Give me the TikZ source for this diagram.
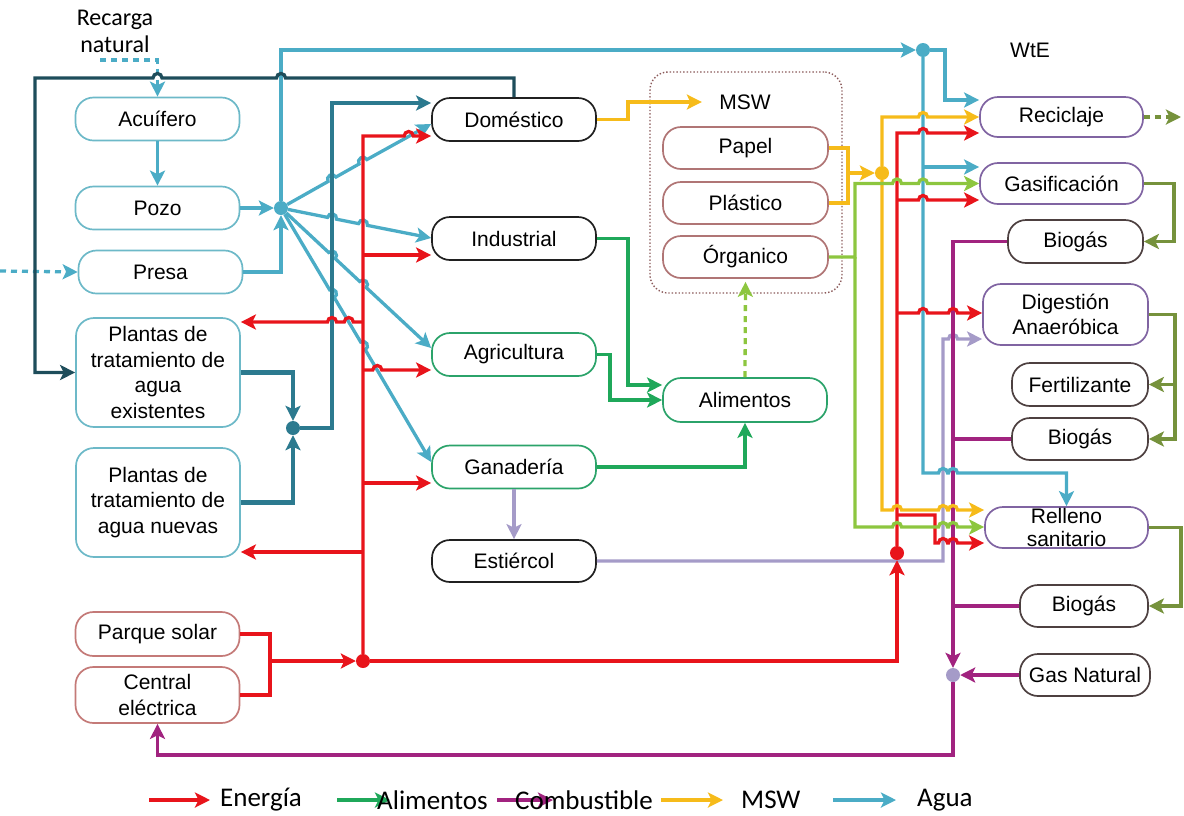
\documentclass[tikz,border=0pt]{standalone}
\usepackage{fontspec}
\setmainfont{Liberation Sans}
\newfontfamily\calibfont{Carlito}
\usetikzlibrary{arrows.meta,calc}

\definecolor{cwater}{HTML}{4BACC6}
\definecolor{cwaterbox}{HTML}{6DB9C8}
\definecolor{cdark}{HTML}{1E4D5B}
\definecolor{cmid}{HTML}{2C7A8F}
\definecolor{cred}{HTML}{E8141B}
\definecolor{credbox}{HTML}{C47A78}
\definecolor{cfood}{HTML}{1FA85A}
\definecolor{cfoodbox}{HTML}{2BA36A}
\definecolor{cfuel}{HTML}{A1237F}
\definecolor{cmsw}{HTML}{F6BB1A}
\definecolor{corg}{HTML}{8DC63F}
\definecolor{coli}{HTML}{76923C}
\definecolor{clav}{HTML}{A59BC8}
\definecolor{cwte}{HTML}{8064A2}
\definecolor{cgas}{HTML}{4D4040}
\definecolor{cmswbox}{HTML}{B07575}
\definecolor{cgroup}{HTML}{8B5A5A}
\definecolor{cblack}{HTML}{202020}

\newcommand\boxtxt{\fontsize{21}{25.5}\selectfont}
% hop over a crossing line: x, y of the crossing, travel angle
\newcommand\hopr[3]{-- ({#1+4.5*cos(#3+180)},{#2+4.5*sin(#3+180)}) arc[start angle=#3+180, end angle=#3+360, radius=4.5]}
\newcommand\hopl[3]{-- ({#1+4.5*cos(#3+180)},{#2+4.5*sin(#3+180)}) arc[start angle=#3+180, end angle=#3, radius=4.5]}

\begin{document}
\begin{tikzpicture}[x=1pt,y=-1pt,
  box/.style={draw, fill=white, rounded corners=18pt, line width=1.7pt, inner sep=0pt,
    minimum height=43pt, minimum width=164pt, align=center, font=\boxtxt},
  wbox/.style={draw=cwaterbox},
  kbox/.style={draw=cblack},
  gbox/.style={draw=cfoodbox},
  mbox/.style={draw=cmswbox},
  pbox/.style={draw=cwte},
  bbox/.style={draw=cgas},
  ebox/.style={draw=credbox},
  dot/.style={circle, inner sep=0pt, minimum size=14pt},
  fl/.style={line width=3.3pt},
  thk/.style={line width=4.5pt},
  arr/.style={-{Stealth[length=15pt,width=15pt,inset=3.5pt]}},
  lg/.style={font=\calibfont\fontsize{27}{30}\selectfont, inner sep=0pt}]
\useasboundingbox (0,0) rectangle (1184,815);

% ---------- MSW group frame ----------
\node[draw=cgroup, dotted, rounded corners=18pt, line width=1.4pt, minimum width=192pt,
  minimum height=221pt, inner sep=0pt] (grupo) at (746,182.5) {};

% ---------- water sources ----------
\node[font=\calibfont\fontsize{24}{27}\selectfont, align=center, inner sep=0pt] (recarga) at (115,31) {Recarga\\natural};
\node[box, wbox] (acuifero) at (157.5,119) {Acuífero};
\node[box, wbox] (pozo) at (157.5,208) {Pozo};
\node[box, wbox] (presa) at (160.5,272) {Presa};
\node[box, wbox, minimum height=109pt] (ptae) at (158,372.5) {Plantas de\\tratamiento de\\agua\\existentes};
\node[box, wbox, minimum height=109pt] (ptan) at (158,502.5) {Plantas de\\tratamiento de\\agua nuevas};
\node[box, ebox, minimum height=44pt] (parque) at (157.5,634) {Parque solar};
\node[box, ebox, minimum height=56pt] (central) at (157.5,695) {Central\\eléctrica};

% ---------- uses ----------
\node[box, kbox] (domestico) at (514,119.5) {Doméstico};
\node[box, kbox] (industrial) at (514,238.5) {Industrial};
\node[box, gbox] (agricultura) at (514,354.5) {Agricultura};
\node[box, gbox] (ganaderia) at (514,467) {Ganadería};
\node[box, kbox, minimum height=42pt] (estiercol) at (514,561) {Estiércol};
\node[box, gbox, minimum height=44pt] (alimentos) at (745,400) {Alimentos};

% ---------- MSW ----------
\node[font=\boxtxt] (msw) at (745,102) {MSW};
\node[box, mbox, minimum height=42pt, minimum width=165pt] (papel) at (745.5,148) {Papel};
\node[box, mbox, minimum height=42pt, minimum width=165pt] (plastico) at (745.5,203) {Plástico};
\node[box, mbox, minimum height=42pt, minimum width=165pt] (organico) at (745.5,257) {Órganico};

% ---------- WtE ----------
\node[font=\boxtxt] (wte) at (1030,50) {WtE};
\node[box, pbox, minimum width=163pt, minimum height=40pt] (reciclaje) at (1061.5,117) {Reciclaje};
\node[box, pbox, minimum width=163pt, minimum height=41pt] (gasif) at (1061.5,183.5) {Gasificación};
\node[box, bbox, minimum width=135pt] (biogasA) at (1075.5,241.5) {Biogás};
\node[box, pbox, minimum width=165pt, minimum height=61pt] (digestion) at (1065.5,314.5) {Digestión\\Anaeróbica};
\node[box, bbox, minimum width=136pt] (fertil) at (1080,384.5) {Fertilizante};
\node[box, bbox, minimum width=136pt, minimum height=42pt] (biogasB) at (1080,439) {Biogás};
\node[box, pbox, minimum width=163pt, minimum height=41pt, font=\fontsize{21}{23}\selectfont] (relleno) at (1066.5,527.5) {Relleno\\sanitario};
\node[box, bbox, minimum width=128pt, minimum height=42pt] (biogasC) at (1084,606) {Biogás};
\node[box, bbox, minimum width=130pt, minimum height=42pt] (gasnat) at (1085,675) {Gas Natural};

% ---------- free ends ----------
\coordinate (rechargein) at (100,60);
\coordinate (damin) at (0,271);
\coordinate (outrec) at (1181,117);

% ---------- food ----------
\draw[fl, cfood, arr] (industrial.east) -- (628,238.5) -- (628,385) -- (alimentos.west |- 0,385);
\draw[fl, cfood, arr] (agricultura.east) -- (610,354.5) -- (610,400) -- (alimentos.west);
\draw[fl, cfood, arr] (ganaderia.east) -| (alimentos.south);
\draw[fl, corg, dashed, dash pattern=on 6pt off 5pt, arr] (alimentos.north) -- ([yshift=-3pt]organico.south);

% ---------- manure ----------
\draw[fl, clav, arr] (ganaderia.south) -- (estiercol.north);
\draw[fl, clav, arr] (estiercol.east) -- (943,561) -- (943,339) \hopr{953}{339}{0} -- (digestion.west |- 0,339);

% ---------- fuel ----------
\node[dot, fill=clav] (j7) at (953,675) {};
\draw[fl, cfuel, arr] (biogasA.west) -| (j7);
\draw[fl, cfuel] (biogasB.west) -- (953,439);
\draw[fl, cfuel] (biogasC.west) -- (953,606);
\draw[fl, cfuel, arr] (gasnat.west) -- (j7);
\draw[fl, cfuel, arr] (j7) -- (953,755) -| (central.south);

% ---------- water ----------
\draw[fl, cwater, dashed, dash pattern=on 6pt off 5pt, arr] (rechargein) -- (157.5,60) -- (acuifero.north);
\draw[fl, cwater, dashed, dash pattern=on 6pt off 5pt, arr] (damin) -- (presa.west);
\draw[fl, cwater, arr] (acuifero) -- (pozo);
\node[dot, fill=cwater] (j1) at (281,208) {};
\node[dot, fill=cwater] (j2) at (923,50) {};
\draw[fl, cwater, arr] (pozo) -- (j1);
\draw[fl, cwater, arr] (presa.east) -| (j1);
\draw[fl, cwater, arr] (j1) |- (j2);
\draw[fl, cwater, arr] (j2) -- (945,50) -- (945,100) -- (reciclaje.west |- 0,100);
\draw[fl, cwater, arr] (j2) -- (923,473) \hopr{943}{473}{0} \hopr{953}{473}{0} -| (relleno.north);
\draw[fl, cwater, arr] (923,167) -- (gasif.west |- 0,167);
\draw[fl, cwater, arr] (j1) \hopr{332}{179.25}{-29.41} \hopr{363}{161.77}{-29.41} -- (domestico.west |- 0,124);
\draw[fl, cwater, arr] (j1) \hopr{332}{218.27}{11.38} \hopr{363}{224.51}{11.38} -- (industrial.west |- 0,238);
\draw[fl, cwater, arr] (j1) \hopr{332}{255.60}{43.03} \hopr{363}{284.53}{43.03} -- (agricultura.west |- 0,348);
\draw[fl, cwater, arr] (j1) \hopr{332}{293.79}{59.27} \hopr{363}{345.93}{59.27} -- (ganaderia.west |- 0,462);

% ---------- waste water loop ----------
\draw[fl, cdark, arr] (domestico.north) -- (514,78) \hopl{281}{78}{180} \hopl{157.5}{78}{180} -- (35,78) -- (35,372.5) -- (ptae.west);
\node[dot, fill=cmid] (j3) at (293,428) {};
\draw[thk, cmid, arr] (ptae.east) -| (j3);
\draw[thk, cmid, arr] (ptan.east) -| (j3);
\draw[fl, cmid, arr] (j3) -- (332,428) -- (332,103) -- (domestico.west |- 0,103);

% ---------- energy ----------
\node[dot, fill=cred] (j4) at (363,661) {};
\node[dot, fill=cred] (j5) at (897,553) {};
\draw[fl, cred] (parque.east) -- (270,634) -- (270,695) -- (central.east);
\draw[fl, cred, arr] (270,661) -- (j4);
\draw[fl, cred, arr] (j4) -- (363,136) \hopr{408.7}{136}{0} -- (domestico.west |- 0,136);
\draw[fl, cred, arr] (363,255) -- (industrial.west |- 0,255);
\draw[fl, cred, arr] (363,322) \hopl{348.8}{322}{180} \hopl{332}{322}{180} -- (ptae.east |- 0,322);
\draw[fl, cred, arr] (363,370) \hopr{377.3}{370}{0} -- (agricultura.west |- 0,370);
\draw[fl, cred, arr] (363,483) -- (ganaderia.west |- 0,483);
\draw[fl, cred, arr] (363,552) -- (ptan.east |- 0,552);
\draw[fl, cred, arr] (j4) -| (j5);
\draw[fl, cred, arr] (j5) -- (897,133) \hopr{923}{133}{0} -- (reciclaje.west |- 0,133);
\draw[fl, cred, arr] (897,200) \hopr{923}{200}{0} -- (gasif.west |- 0,200);
\draw[fl, cred, arr] (897,313) \hopr{923}{313}{0} \hopr{953}{313}{0} -- (digestion.west |- 0,313);
\draw[fl, cred, arr] (897,515) -- (935,515) -- (935,543) \hopr{943}{543}{0} \hopr{953}{543}{0} -- (relleno.west |- 0,543);

% ---------- municipal solid waste ----------
\node[dot, fill=cmsw] (j6) at (882,173) {};
\draw[fl, cmsw, arr] (domestico.east) -- (628,119.5) -- (628,102) -- ([xshift=-14pt]msw.west);
\draw[fl, cmsw] (papel.east) -- (848,148) -- (848,203) -- (plastico.east);
\draw[fl, cmsw, arr] (848,173) -- (j6);
\draw[fl, cmsw, arr] (j6) -- (882,117) \hopr{923}{117}{0} -- (reciclaje.west |- 0,117);
\draw[fl, cmsw, arr] (j6) -- (882,510) \hopr{897}{510}{0} \hopr{943}{510}{0} \hopr{953}{510}{0} -- (relleno.west |- 0,510);

% ---------- organic fraction ----------
\draw[fl, corg, arr] (organico.east) -- (855,257) -- (855,183.5) \hopr{897}{183.5}{0} \hopr{923}{183.5}{0} -- (gasif.west);
\draw[fl, corg, arr] (855,257) -- (855,527) \hopr{897}{527}{0} \hopr{943}{527}{0} \hopr{953}{527}{0} -- (relleno.west |- 0,527);

% ---------- WtE products ----------
\draw[fl, coli, dashed, dash pattern=on 6pt off 5pt, arr] (reciclaje.east) -- (outrec);
\draw[fl, coli, arr] (gasif.east) -- (1174,183.5) -- (1174,241.5) -- (biogasA.east);
\draw[fl, coli, arr] (digestion.east) -- (1175,314.5) -- (1175,439) -- (biogasB.east);
\draw[fl, coli, arr] (1175,384.5) -- (fertil.east);
\draw[fl, coli, arr] (relleno.east) -- (1181,527.5) -- (1181,606) -- (biogasC.east);

% ---------- legend ----------
\draw[fl, cred, arr] (149,800) -- (210,800);
\node[lg, anchor=west] (lgE) at (220,800) {Energía};
\draw[fl, cfood, arr] (337,800) -- (390,800);
\node[lg, anchor=west] (lgA) at (377,800) {Alimentos};
\draw[fl, cfuel, arr] (497,800) -- (553,800);
\node[lg, anchor=west] (lgC) at (515,800) {Combustible};
\draw[fl, cmsw, arr] (661,800) -- (723,800);
\node[lg, anchor=west] (lgM) at (741,800) {MSW};
\draw[fl, cwater, arr] (833,800) -- (896,800);
\node[lg, anchor=west] (lgW) at (917,800) {Agua};
\end{tikzpicture}
\end{document}
